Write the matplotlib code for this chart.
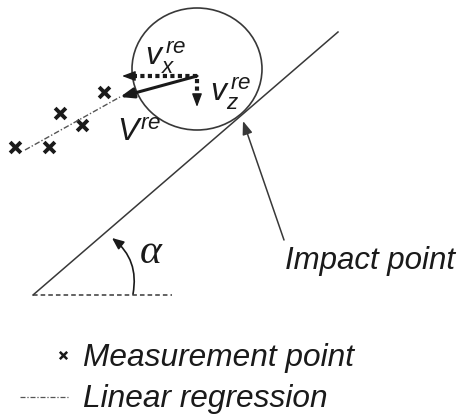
import matplotlib.pyplot as plt
from matplotlib.patches import Ellipse

plt.rcParams["mathtext.fontset"] = "custom"
plt.rcParams["mathtext.it"] = "Liberation Sans:italic"
plt.rcParams["mathtext.rm"] = "Liberation Sans"

# === Data (pixel coordinates of the sketch, y downward) ===
meas_x = [15, 49, 82, 60, 104]
meas_y = [147, 147, 125, 113, 92]
reg_x = [25, 120]
reg_y = [150, 97]
ball_center = (197, 69)
ball_w, ball_h = 130, 122
slope_x = [33, 338]
slope_y = [295, 32]
ground_x = [33, 172]
ground_y = [295, 295]
legend_labels = ["Measurement point", "Linear regression"]

INK = "#1a1a1a"
LINE = "#383838"
FONT = "Liberation Sans"

fig = plt.figure(figsize=(4.63, 4.16), dpi=100)
ax = fig.add_axes([0, 0, 1, 1])
ax.set_xlim(0, 463)
ax.set_ylim(416, 0)
ax.axis("off")

# === Slope and ground ===
ax.plot(slope_x, slope_y, color=LINE, lw=1.1)
ax.plot(ground_x, ground_y, color=LINE, lw=1.1, ls=(0, (3, 2)))

# === Ball ===
ax.add_patch(Ellipse(ball_center, ball_w, ball_h, fill=False, ec=LINE, lw=1.2))

# === Measurements + regression ===
ax.plot(reg_x, reg_y, color="#555555", lw=1.0, ls=(0, (4, 1.5, 1, 1.5)))
ax.scatter(meas_x, meas_y, marker="x", s=60, color=INK, linewidths=2.8)

# === Velocity vectors ===
head = "-|>,head_length=0.8,head_width=0.3"
cx, cy = 197, 76
ax.annotate("", xy=(120, 97), xytext=(cx, cy),
            arrowprops=dict(arrowstyle=head, color=INK, lw=2.2, shrinkA=0, shrinkB=0))
# vx (dotted)
ax.plot([cx, 132], [cy, cy], color=INK, lw=3, ls=(0, (1, 0.8)))
ax.annotate("", xy=(122, cy), xytext=(134, cy),
            arrowprops=dict(arrowstyle=head, color=INK, lw=1, shrinkA=0, shrinkB=0))
# vz (dotted)
ax.plot([cx, cx], [cy + 3, 98], color=INK, lw=3, ls=(0, (1, 0.8)))
ax.annotate("", xy=(cx, 107), xytext=(cx, 96),
            arrowprops=dict(arrowstyle=head, color=INK, lw=1, shrinkA=0, shrinkB=0))

# === Labels ===
def lab(x, y, s, size):
    ax.text(x, y, s, fontsize=size, style="italic", family=FONT, color=INK,
            ha="left", va="baseline")

lab(145, 65, r"$v_x^{\,re}$", 23)
lab(210, 101, r"$v_z^{\,re}$", 23)
lab(117, 142, r"$V^{re}$", 23)

# === Impact point ===
ax.annotate("", xy=(243, 121), xytext=(284, 240),
            arrowprops=dict(arrowstyle=head, color=LINE, lw=1.1, shrinkA=0, shrinkB=0))
lab(285, 269, "Impact point", 22.5)

# === Angle ===
ax.annotate("", xy=(112, 238), xytext=(133, 294),
            arrowprops=dict(arrowstyle="-|>,head_length=0.7,head_width=0.3",
                            color=INK, lw=1.2, shrinkA=0, shrinkB=0,
                            connectionstyle="arc3,rad=0.3"))
ax.text(140, 263, "α", fontsize=30, style="italic", family="Liberation Serif",
        color=INK, ha="left", va="baseline")

# === Legend ===
ax.scatter([63], [355], marker="x", s=28, color=INK, linewidths=1.8)
lab(83, 366, legend_labels[0], 22.8)
ax.plot([20, 68], [397, 397], color="#555555", lw=0.9, ls=(0, (4, 1.5, 1, 1.5)))
lab(83, 407, legend_labels[1], 22.8)

fig.savefig("out.png", dpi=100)
